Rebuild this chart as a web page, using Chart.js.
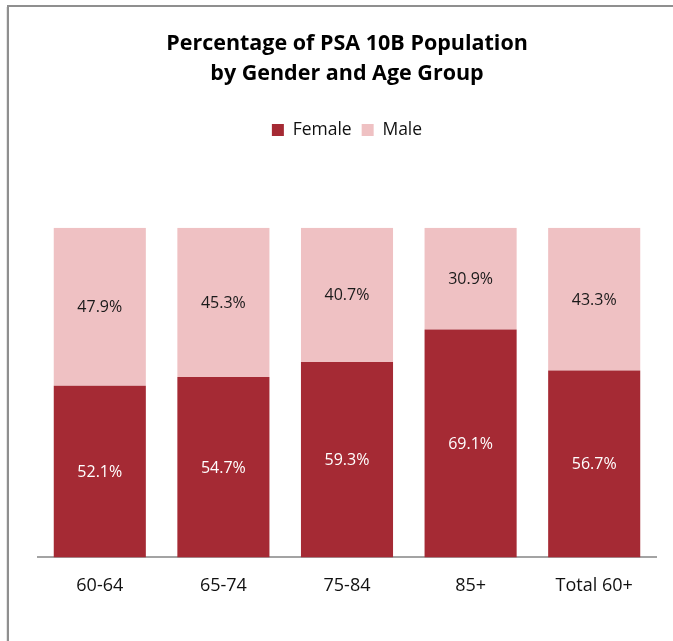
<!DOCTYPE html>
<html>
<head>
<meta charset="utf-8">
<script src="https://cdn.jsdelivr.net/npm/chart.js@4"></script>
<style>
  html, body { margin: 0; padding: 0; background: #fff; }
  #wrap { width: 673px; height: 641px; position: relative; }
</style>
</head>
<body>
<div id="wrap"><canvas id="chart"></canvas></div>
<script>
var ageGroups = ["60-64", "65-74", "75-84", "85+", "Total 60+"];
var femaleShare = [52.1, 54.7, 59.3, 69.1, 56.7];
var maleShare = [47.9, 45.3, 40.7, 30.9, 43.3];

var FONT = "'Open Sans', 'DejaVu Sans', sans-serif";

// frame lines (top + left only, like the source picture)
var framePlugin = {
  id: "frame",
  beforeDraw: function (chart) {
    var ctx = chart.ctx;
    ctx.save();
    ctx.strokeStyle = "#e6e6e6";
    ctx.lineWidth = 1;
    ctx.beginPath();
    ctx.moveTo(6.5, 7);
    ctx.lineTo(6.5, 641);
    ctx.stroke();
    ctx.strokeStyle = "#8f8f8f";
    ctx.lineWidth = 2;
    ctx.beginPath();
    ctx.moveTo(8, 641);
    ctx.lineTo(8, 6);
    ctx.lineTo(673, 6);
    ctx.stroke();
    ctx.restore();
  }
};

// percent labels in the middle of each segment
var labelPlugin = {
  id: "segLabels",
  afterDatasetsDraw: function (chart) {
    var ctx = chart.ctx;
    ctx.save();
    ctx.font = "16px " + FONT;
    ctx.textAlign = "center";
    ctx.textBaseline = "middle";
    chart.data.datasets.forEach(function (ds, i) {
      var meta = chart.getDatasetMeta(i);
      meta.data.forEach(function (bar, j) {
        var mid = (bar.y + bar.base) / 2;
        ctx.fillStyle = i === 0 ? "#ffffff" : "#1a1a1a";
        ctx.fillText(ds.data[j].toFixed(1) + "%", bar.x, mid + 1);
      });
    });
    ctx.restore();
  }
};

new Chart(document.getElementById("chart"), {
  type: "bar",
  data: {
    labels: ageGroups,
    datasets: [
      {
        label: "Female",
        data: femaleShare,
        backgroundColor: "#a52a34",
        borderWidth: 0
      },
      {
        label: "Male",
        data: maleShare,
        backgroundColor: "#efc1c3",
        borderWidth: 0
      }
    ]
  },
  options: {
    responsive: true,
    maintainAspectRatio: false,
    animation: false,
    events: [],
    layout: { padding: { left: 38, right: 17, top: 0, bottom: 26 } },
    datasets: {
      bar: { categoryPercentage: 1, barPercentage: 0.745 }
    },
    plugins: {
      title: {
        display: true,
        text: ["Percentage of PSA 10B Population", "by Gender and Age Group"],
        color: "#000",
        font: { family: FONT, size: 21.5, weight: "bold", lineHeight: 1.4 },
        padding: { top: 29, bottom: 22 }
      },
      legend: {
        display: true,
        position: "top",
        labels: {
          color: "#111",
          font: { family: FONT, size: 17.5 },
          boxWidth: 12,
          boxHeight: 12,
          padding: 10
        }
      },
      tooltip: { enabled: false }
    },
    scales: {
      x: {
        stacked: true,
        grid: { display: false, drawTicks: false },
        border: { display: true, color: "#a3a3a3", width: 2 },
        ticks: {
          color: "#111",
          font: { family: FONT, size: 18 },
          padding: 18
        }
      },
      spacer: {
        type: "category",
        position: "top",
        labels: ageGroups,
        grid: { display: false, drawTicks: false },
        border: { display: false },
        ticks: { display: false },
        afterFit: function (scale) { scale.height = 79; }
      },
      y: {
        stacked: true,
        display: false,
        min: 0,
        max: 100
      }
    }
  },
  plugins: [framePlugin, labelPlugin]
});
</script>
</body>
</html>
